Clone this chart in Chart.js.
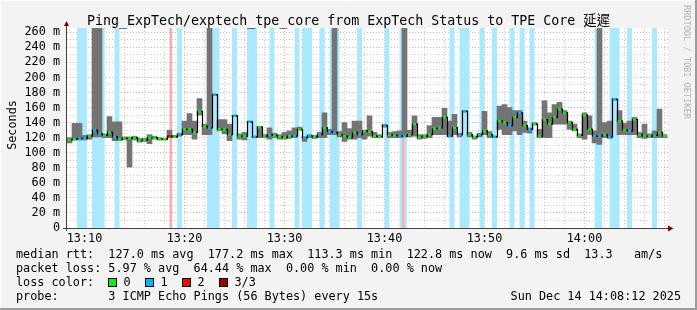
<!DOCTYPE html>
<html>
<head>
<meta charset="utf-8">
<title>Ping_ExpTech/exptech_tpe_core</title>
<script src="https://cdn.jsdelivr.net/npm/chart.js@4.4.1/dist/chart.umd.min.js"></script>
<style>
  html, body { margin: 0; padding: 0; background: #f3f3f3; }
</style>
</head>
<body>
<canvas id="pingChart" width="697" height="310"></canvas>
<script>
// sample times, minutes after 13:00 (30 s steps)
const sampleTimes = [
  8.5, 9, 9.5, 10, 10.5, 11, 11.5, 12, 12.5, 13,
  13.5, 14, 14.5, 15, 15.5, 16, 16.5, 17, 17.5, 18,
  18.5, 19, 19.5, 20, 20.5, 21, 21.5, 22, 22.5, 23,
  23.5, 24, 24.5, 25, 25.5, 26, 26.5, 27, 27.5, 28,
  28.5, 29, 29.5, 30, 30.5, 31, 31.5, 32, 32.5, 33,
  33.5, 34, 34.5, 35, 35.5, 36, 36.5, 37, 37.5, 38,
  38.5, 39, 39.5, 40, 40.5, 41, 41.5, 42, 42.5, 43,
  43.5, 44, 44.5, 45, 45.5, 46, 46.5, 47, 47.5, 48,
  48.5, 49, 49.5, 50, 50.5, 51, 51.5, 52, 52.5, 53,
  53.5, 54, 54.5, 55, 55.5, 56, 56.5, 57, 57.5, 58,
  58.5, 59, 59.5, 60, 60.5, 61, 61.5, 62, 62.5, 63,
  63.5, 64, 64.5, 65, 65.5, 66, 66.5, 67, 67.5, 68
];

// median rtt (ms)
const medianRtt = [
  117, 118, 119, 119, 122, 130, 125, 123, 127, 121,
  118, 119, 119, 120, 116, 117, 120, 120, 118, 118,
  122, 121, 124, 131, 131, 127, 155, 135, 133, 177,
  131, 131, 124, 149, 122, 122, 141, 121, 134, 122,
  124, 123, 121, 120, 122, 122, 131, 120, 122, 121,
  124, 133, 128, 127, 124, 122, 120, 127, 124, 129,
  128, 122, 121, 136, 124, 123, 122, 122, 124, 138,
  121, 122, 124, 132, 133, 147, 122, 133, 124, 155,
  124, 121, 124, 129, 124, 121, 142, 140, 136, 147,
  153, 136, 131, 138, 122, 144, 138, 147, 158, 153,
  140, 131, 123, 150, 131, 122, 122, 124, 121, 171,
  142, 130, 129, 144, 124, 122, 122, 123, 127, 122
];

// smoke: lowest and highest ping of each step (ms)
const smokeMin = [
  113, 117, 117, 117, 118, 121, 121, 120, 120, 116,
  116, 117, 81, 117, 114, 115, 112, 118, 117, 117,
  120, 120, 122, 124, 124, 118, 150, 124, 124, 176,
  129, 125, 116, 148, 118, 117, 140, 120, 120, 120,
  118, 120, 118, 118, 119, 120, 130, 115, 120, 119,
  120, 120, 124, 124, 121, 115, 118, 118, 120, 118,
  122, 120, 120, 134, 120, 120, 120, 121, 121, 122,
  118, 119, 120, 124, 124, 124, 121, 124, 121, 154,
  121, 118, 121, 124, 120, 120, 131, 124, 124, 129,
  124, 127, 126, 137, 120, 120, 120, 138, 138, 138,
  131, 129, 120, 118, 124, 113, 111, 120, 119, 170,
  124, 124, 124, 124, 120, 119, 120, 120, 120, 120
];
const smokeMax = [
  120, 139, 139, 123, 124, 300, 300, 125, 148, 141,
  141, 121, 121, 122, 119, 119, 124, 122, 120, 119,
  130, 123, 126, 142, 152, 142, 172, 138, 300, 178,
  144, 144, 138, 150, 125, 127, 142, 122, 135, 124,
  133, 126, 124, 127, 129, 133, 134, 121, 124, 123,
  127, 153, 131, 300, 128, 140, 132, 142, 142, 130,
  149, 127, 124, 138, 127, 128, 129, 300, 130, 149,
  124, 124, 136, 147, 147, 159, 142, 151, 126, 156,
  127, 122, 126, 155, 128, 122, 162, 164, 160, 156,
  156, 142, 133, 140, 131, 169, 153, 164, 167, 156,
  142, 138, 125, 153, 149, 129, 300, 140, 142, 172,
  156, 139, 142, 147, 127, 138, 125, 129, 158, 124
];

// packet loss episodes (minutes after 13:00) and lost pings out of 3
const lossFrom  = [9.25, 10.75, 13.0, 18.5, 19.25, 22.25, 24.75, 26.25, 28.5, 31.0, 31.75, 33.5, 34.5, 37.25, 40.0, 41.5, 41.75, 42.0, 46.5, 47.5, 49.5, 50.75, 52.5, 53.5, 54.5, 61.0, 62.5, 64.25, 66.75];
const lossTo    = [10.25, 12.0, 13.5, 18.75, 19.75, 23.5, 25.25, 27.25, 29.0, 31.5, 32.75, 34.0, 35.5, 37.75, 40.5, 41.75, 42.0, 42.25, 47.0, 48.5, 50.0, 51.25, 53.0, 54.0, 55.0, 61.75, 63.5, 64.75, 67.25];
const lossLevel = [1, 1, 1, 2, 1, 1, 1, 1, 1, 1, 1, 1, 1, 1, 1, 1, 2, 1, 1, 1, 1, 1, 1, 1, 1, 1, 1, 1, 1];

const xLabelValues = [10, 20, 30, 40, 50, 60];
const xLabels = ['13:10', '13:20', '13:30', '13:40', '13:50', '14:00'];

const lossColors = ['#10ee10', '#00b4ff', '#ff0000', '#990000'];
const bandColors = { 1: '#aae9ff', 2: '#ffaaaa' };

const X_MIN = 8.25, X_MAX = 68.35, Y_MAX = 265.7;
const mono = '"DejaVu Sans Mono", "Noto Sans CJK TC", monospace';

function lossAt(t) {
  for (let k = 0; k < lossFrom.length; k++) {
    if (lossFrom[k] <= t && t < lossTo[k]) return lossLevel[k];
  }
  return 0;
}

function bandPoints(level) {
  const pts = [{ x: X_MIN, y: 0 }];
  lossFrom.forEach((f, k) => {
    if (lossLevel[k] !== level) return;
    pts.push({ x: f, y: Y_MAX });
    pts.push({ x: lossTo[k], y: 0 });
  });
  pts.push({ x: X_MAX, y: 0 });
  return pts;
}

const rrdDecor = {
  id: 'rrdDecor',
  beforeDraw(chart) {
    const { ctx, chartArea: a } = chart;
    ctx.save();
    ctx.fillStyle = '#f3f3f3';
    ctx.fillRect(0, 0, chart.width, chart.height);
    ctx.fillStyle = '#ffffff';
    ctx.fillRect(a.left, a.top, a.right - a.left, a.bottom - a.top);
    ctx.restore();
  },
  // nudge the thin median line half a pixel so its steps land on whole pixels
  beforeDatasetDraw(chart, args) {
    if (args.index === 1) {
      chart.ctx.save();
      chart.ctx.translate(0.5, 0);
    }
  },
  afterDatasetDraw(chart, args) {
    if (args.index === 1) chart.ctx.restore();
  },
  afterDraw(chart) {
    const { ctx, chartArea: a } = chart;
    ctx.save();

    // axes
    ctx.strokeStyle = '#404040';
    ctx.lineWidth = 1;
    ctx.beginPath();
    ctx.moveTo(a.left - 0.5, a.bottom + 3);
    ctx.lineTo(a.left - 0.5, a.top - 5);
    ctx.moveTo(a.left - 4, a.bottom + 0.5);
    ctx.lineTo(a.right + 1, a.bottom + 0.5);
    ctx.stroke();
    ctx.fillStyle = '#7f0000';
    ctx.beginPath();
    ctx.moveTo(a.left - 3, a.top - 2);
    ctx.lineTo(a.left + 2, a.top - 2);
    ctx.lineTo(a.left - 0.5, a.top - 7);
    ctx.closePath();
    ctx.fill();
    ctx.beginPath();
    ctx.moveTo(a.right, a.bottom - 2.5);
    ctx.lineTo(a.right, a.bottom + 3.5);
    ctx.lineTo(a.right + 5.5, a.bottom + 0.5);
    ctx.closePath();
    ctx.fill();

    // title
    ctx.fillStyle = '#000';
    ctx.font = '13.3px ' + mono;
    ctx.textAlign = 'center';
    ctx.textBaseline = 'alphabetic';
    ctx.fillText('Ping_ExpTech/exptech_tpe_core from ExpTech Status to TPE Core 延遲', 348.5, 25);

    // y axis title
    ctx.font = '11.8px ' + mono;
    ctx.save();
    ctx.translate(15.5, 125);
    ctx.rotate(-Math.PI / 2);
    ctx.fillText('Seconds', 0, 0);
    ctx.restore();

    // watermark
    ctx.save();
    ctx.fillStyle = '#b4b4b4';
    ctx.font = '8.6px ' + mono;
    ctx.textAlign = 'left';
    ctx.translate(683.5, 5);
    ctx.rotate(Math.PI / 2);
    ctx.fillText('RRDTOOL / TOBI OETIKER', 0, 0);
    ctx.restore();

    // legend block
    ctx.textAlign = 'left';
    ctx.fillStyle = '#000';
    ctx.font = '11.8px ' + mono;
    ctx.fillText('median rtt:  127.0 ms avg  177.2 ms max  113.3 ms min  122.8 ms now  9.6 ms sd  13.3   am/s', 16, 258);
    ctx.fillText('packet loss: 5.97 % avg  64.44 % max  0.00 % min  0.00 % now', 16, 272);
    ctx.fillText('loss color:', 16, 286);
    const swatchX = [108, 145, 182, 219];
    const swatchText = ['0', '1', '2', '3/3'];
    swatchX.forEach((sx, k) => {
      ctx.fillStyle = lossColors[k];
      ctx.fillRect(sx, 278.5, 8, 8);
      ctx.strokeStyle = '#000';
      ctx.strokeRect(sx + 0.5, 278.5, 8, 8);
      ctx.fillStyle = '#000';
      ctx.fillText(swatchText[k], sx + 15.5, 286);
    });
    ctx.fillText('probe:       3 ICMP Echo Pings (56 Bytes) every 15s', 16, 300);
    ctx.textAlign = 'right';
    ctx.fillText('Sun Dec 14 14:08:12 2025', 681, 300);

    // outer frame
    ctx.strokeStyle = '#ffffff';
    ctx.beginPath();
    ctx.moveTo(0.5, chart.height);
    ctx.lineTo(0.5, 0.5);
    ctx.lineTo(chart.width, 0.5);
    ctx.stroke();
    ctx.strokeStyle = '#9c9c9c';
    ctx.lineWidth = 2;
    ctx.beginPath();
    ctx.moveTo(0, chart.height - 1);
    ctx.lineTo(chart.width - 1, chart.height - 1);
    ctx.lineTo(chart.width - 1, 0);
    ctx.stroke();
    ctx.restore();
  }
};

new Chart(document.getElementById('pingChart'), {
  type: 'bar',
  data: {
    datasets: [
      {
        type: 'line',
        order: 0,
        data: sampleTimes.map((t, i) => ({ x: t, y: medianRtt[i] })),
        showLine: false,
        borderColor: 'transparent',
        pointStyle: 'line',
        pointRadius: 1.5,
        pointBorderWidth: 2.5,
        pointBorderColor: sampleTimes.map(t => lossColors[lossAt(t)])
      },
      {
        type: 'line',
        order: 1,
        data: sampleTimes.map((t, i) => ({ x: t, y: medianRtt[i] })),
        stepped: 'middle',
        borderColor: '#000000',
        borderWidth: 1.2,
        pointRadius: 0,
        fill: false
      },
      {
        type: 'bar',
        order: 2,
        data: sampleTimes.map((t, i) => ({ x: t, y: [smokeMin[i], smokeMax[i]] })),
        backgroundColor: '#747474',
        borderWidth: 0,
        barPercentage: 1,
        categoryPercentage: 1
      },
      {
        type: 'line',
        order: 3,
        data: bandPoints(2),
        stepped: true,
        borderColor: 'transparent',
        borderWidth: 0,
        pointRadius: 0,
        fill: 'origin',
        backgroundColor: bandColors[2]
      },
      {
        type: 'line',
        order: 4,
        data: bandPoints(1),
        stepped: true,
        borderColor: 'transparent',
        borderWidth: 0,
        pointRadius: 0,
        fill: 'origin',
        backgroundColor: bandColors[1]
      }
    ]
  },
  options: {
    responsive: false,
    animation: false,
    events: [],
    layout: { padding: { top: 28, right: 29, left: 0, bottom: 0 } },
    plugins: { legend: { display: false }, tooltip: { enabled: false } },
    scales: {
      x: {
        type: 'linear',
        min: X_MIN,
        max: X_MAX,
        offset: false,
        grid: {
          offset: false,
          drawTicks: false,
          color: c => (c.tick && c.tick.value % 10 === 0) ? 'rgba(235,90,90,0.55)' : 'rgba(140,140,140,0.45)'
        },
        border: { display: false, dash: [1, 2] },
        ticks: {
          stepSize: 2,
          includeBounds: false,
          autoSkip: false,
          maxRotation: 0,
          padding: 4,
          color: '#000',
          font: { family: mono, size: 11.8 },
          callback: v => {
            const k = xLabelValues.indexOf(v);
            return k >= 0 ? xLabels[k] : '';
          }
        },
        afterFit: s => { s.height = 82; }
      },
      y: {
        min: 0,
        max: Y_MAX,
        grid: {
          drawTicks: false,
          color: c => (c.tick && c.tick.value % 20 === 0) ? 'rgba(235,90,90,0.55)' : 'rgba(140,140,140,0.45)'
        },
        border: { display: false, dash: [1, 2] },
        ticks: {
          stepSize: 10,
          includeBounds: false,
          autoSkip: false,
          padding: 7,
          color: '#000',
          font: { family: mono, size: 11.8 },
          callback: v => v % 20 !== 0 ? '' : (v === 0 ? '0' : v + ' m')
        },
        afterFit: s => { s.width = 67; }
      }
    }
  },
  plugins: [rrdDecor]
});
</script>
</body>
</html>
